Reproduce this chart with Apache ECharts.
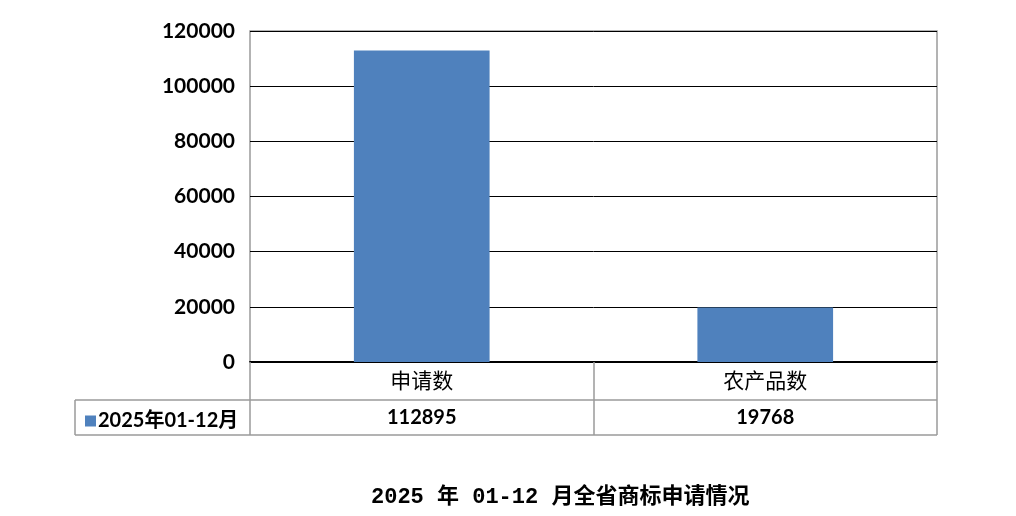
<!DOCTYPE html>
<html><head><meta charset="utf-8">
<script src="https://cdn.jsdelivr.net/npm/echarts@6/dist/echarts.min.js"></script>
<style>html,body{margin:0;padding:0;background:#fff}#c{width:1016px;height:516px}</style>
</head><body><div id="c"></div>
<script>
const categories = ['申请数', '农产品数'];
const seriesName = '2025年01-12月';
const values = [112895, 19768];
const yTicks = [0, 20000, 40000, 60000, 80000, 100000, 120000];
const titleText = '2025 年 01-12 月全省商标申请情况';

const chart = echarts.init(document.getElementById('c'));
const gridL = 250, gridR = 79, gridT = 31, gridB = 154;
chart.setOption({
  animation: false,
  title: {
    text: titleText, left: 366, top: 481,
    textStyle: {fontFamily: "'Liberation Mono','Noto Sans CJK SC'", fontSize: 22, fontWeight: 'bold', color: '#000'}
  },
  legend: {
    data: [seriesName], left: 80, top: 406, icon: 'rect', itemWidth: 11, itemHeight: 11, itemGap: 5,
    textStyle: {fontFamily: "Lato,'Noto Sans CJK SC'", fontSize: 20, fontWeight: 'bold', color: '#000', padding: [0,0,0,-3]}
  },
  grid: {left: gridL, right: gridR, top: gridT, bottom: gridB, show: true, borderColor: '#9a9a9a', borderWidth: 1.5},
  xAxis: [{
    type: 'category', data: categories, position: 'bottom',
    axisLine: {lineStyle: {color: '#000', width: 2}},
    axisTick: {show: true, length: 73, lineStyle: {color: '#9a9a9a', width: 1.5}},
    axisLabel: {margin: 8, fontFamily: "'Noto Sans CJK SC'", fontSize: 21, color: '#000'}
  }, {
    type: 'category', data: values.map(v => String(v)), position: 'bottom', offset: 38,
    axisLine: {show: false}, axisTick: {show: false},
    axisLabel: {margin: 8, fontFamily: 'Lato', fontSize: 20, fontWeight: 'bold', color: '#000'}
  }],
  yAxis: {
    type: 'value', min: yTicks[0], max: yTicks[yTicks.length-1], interval: yTicks[1]-yTicks[0],
    axisLine: {show: false}, axisTick: {show: false},
    splitLine: {lineStyle: {color: '#000', width: 1}},
    axisLabel: {margin: 15, fontFamily: 'Lato', fontSize: 21, fontWeight: 'bold', color: '#000', formatter: v => String(v)}
  },
  series: [{
    name: seriesName, type: 'bar', data: values, barWidth: '39.5%',
    itemStyle: {color: '#4F81BD'}
  }],
  graphic: [
    {type: 'line', shape: {x1: 75, y1: 400, x2: 937, y2: 400}, style: {stroke: '#9a9a9a', lineWidth: 1.5}},
    {type: 'line', shape: {x1: 75, y1: 435, x2: 937, y2: 435}, style: {stroke: '#9a9a9a', lineWidth: 1.5}},
    {type: 'line', shape: {x1: 75, y1: 400, x2: 75, y2: 435}, style: {stroke: '#9a9a9a', lineWidth: 1.5}}
  ]
});
</script></body></html>
